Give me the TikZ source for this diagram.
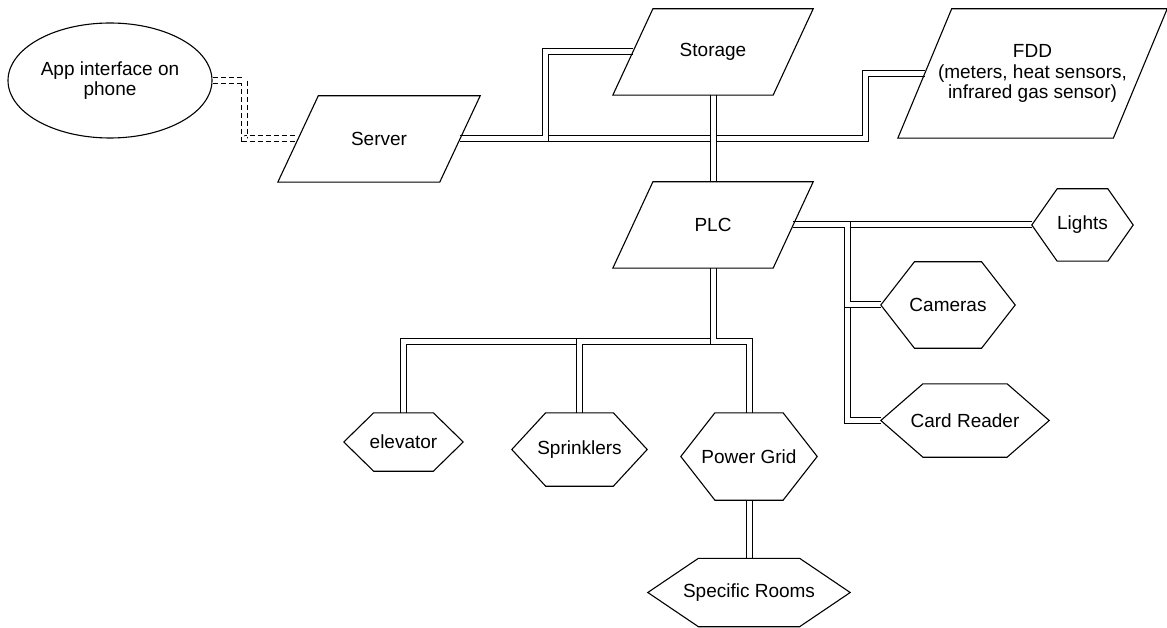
\documentclass[tikz,border=0pt]{standalone}
\usepackage{fontspec}
\setmainfont{Liberation Sans}
\usetikzlibrary{shapes.geometric, calc}

\tikzset{
  box/.style={rectangle, inner sep=0pt, align=center, font=\fontsize{19}{20.5}\selectfont},
  outline/.style={draw=black, line width=1.1pt, line join=miter},
  link/.style={draw=black, line width=1pt, double=white, double distance=5pt},
  dashlink/.style={link, dash pattern=on 5pt off 3pt},
}

\begin{document}
\begin{tikzpicture}[x=1pt, y=-1pt]
    \useasboundingbox (0,0) rectangle (1167,628);

    % App
    \node[box, ellipse, outline, minimum width=204pt, minimum height=115pt] (app) at (110,80.5) {App interface on\\phone};

    % Parallelograms
    \node[box, minimum width=202pt, minimum height=86pt] (server) at (379,139) {Server};
    \node[box, minimum width=200pt, minimum height=86pt] (storage) at (713,52) {Storage};
    \node[box, minimum width=200pt, minimum height=86pt] (plc) at (713,225) {PLC};
    \node[box, minimum width=269pt, minimum height=129pt] (fdd) at (1032.5,73.5) {FDD\\(meters, heat sensors,\\infrared gas sensor)};

    % Hexagons
    \node[box, minimum width=101pt, minimum height=72pt] (lights) at (1082.5,225) {Lights};
    \node[box, minimum width=134pt, minimum height=86pt] (cameras) at (948,305) {Cameras};
    \node[box, minimum width=168pt, minimum height=73pt] (reader) at (965,420.5) {Card Reader};
    \node[box, minimum width=119pt, minimum height=58pt] (elevator) at (403.5,442) {elevator};
    \node[box, minimum width=135pt, minimum height=73pt] (sprinklers) at (579.5,449.5) {Sprinklers};
    \node[box, minimum width=136pt, minimum height=87pt] (grid) at (749,456.5) {Power Grid};
    \node[box, minimum width=202pt, minimum height=68pt] (rooms) at (749,592.5) {Specific Rooms};

    % Points on the slanted sides
    \coordinate (srvL) at ($(server.west)!0.1!(server.east)$);
    \coordinate (srvR) at ($(server.east)!0.1!(server.west)$);
    \coordinate (stoL) at ($(storage.west)!0.1!(storage.east)$);
    \coordinate (fddL) at ($(fdd.west)!0.1!(fdd.east)$);
    \coordinate (plcR) at ($(plc.east)!0.1!(plc.west)$);
    % Bends
    \coordinate (appbend) at (244.5,0);
    \coordinate (stobend) at (545.5,0);
    \coordinate (fddbend) at (865,0);
    \coordinate (sidebus) at (847.5,0);
    \coordinate (lowbus) at (0,341);

    % Links
    \draw[dashlink] (app.east) -- (app.east -| appbend) |- (srvL);
    \draw[link] (srvR) -- (srvR -| fddbend) |- (fddL);
    \draw[link] (srvR) -- (srvR -| stobend) |- (stoL);
    \draw[link] (storage.south) -- (plc.north);
    \draw[link] (plcR) -- (lights.west);
    \draw[link] (plcR) -- (plcR -| sidebus) |- (reader.west);
    \draw[link] (plcR) -- (plcR -| sidebus) |- (cameras.west);
    \foreach \n in {elevator,sprinklers,grid}
        \draw[link] (plc.south) -- (plc.south |- lowbus) -| (\n.north);
    \draw[link] (grid.south) -- (rooms.north);

    % Outlines
    \foreach \n in {server,storage,plc,fdd}
        \draw[outline] (\n.south west) -- ($(\n.south west)!0.8!(\n.south east)$) -- (\n.north east)
            -- ($(\n.north west)!0.2!(\n.north east)$) -- cycle;
    \foreach \n in {lights,cameras,reader,elevator,sprinklers,grid,rooms}
        \draw[outline] (\n.west) -- ($(\n.north west)!0.25!(\n.north east)$) -- ($(\n.north west)!0.75!(\n.north east)$)
            -- (\n.east) -- ($(\n.south west)!0.75!(\n.south east)$) -- ($(\n.south west)!0.25!(\n.south east)$) -- cycle;
\end{tikzpicture}
\end{document}
